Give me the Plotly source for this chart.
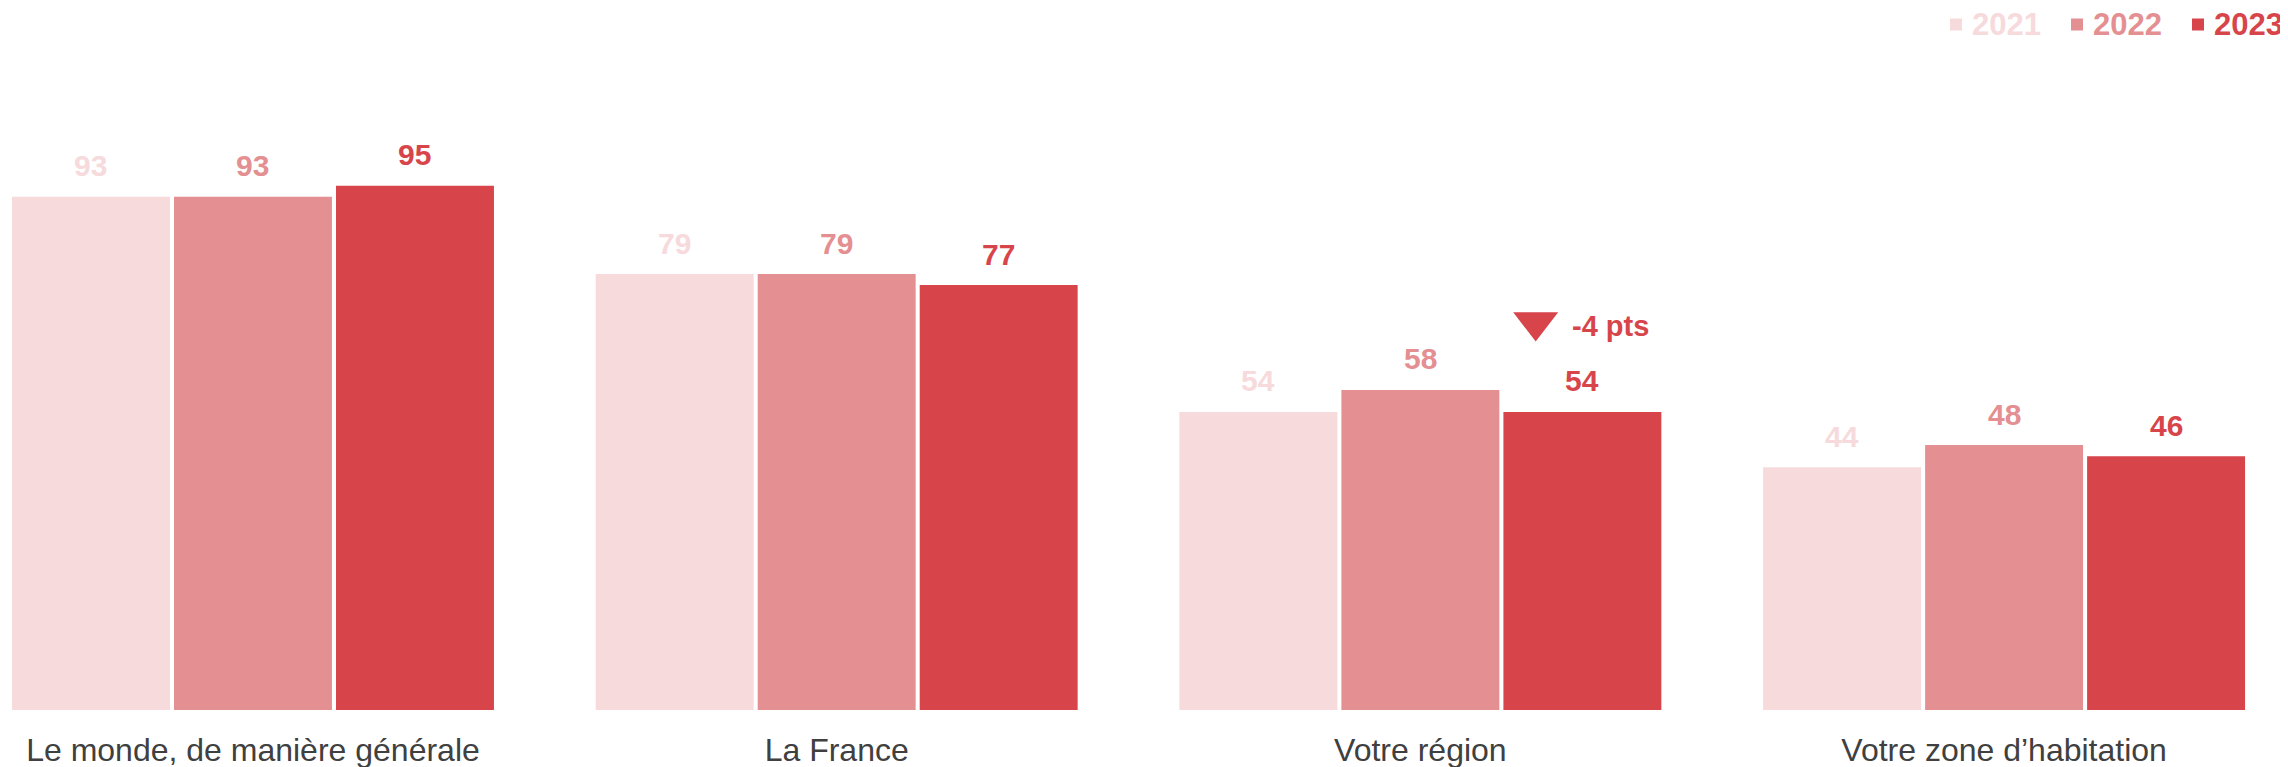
import plotly.graph_objects as go
import numpy as np

categories = ["Le monde, de manière générale", "La France", "Votre région", "Votre zone d\u2019habitation"]
years = ["2021", "2022", "2023"]
values_2021 = [93, 79, 54, 44]
values_2022 = [93, 79, 58, 48]
values_2023 = [95, 77, 54, 46]
colors = ["#F6DADC", "#E48F92", "#D7454B"]

delta_category = 2
delta_text = "-4 pts"

series = [values_2021, values_2022, values_2023]

FONT = "Liberation Sans, Arial, sans-serif"
FIG_W, FIG_H = 2280, 759
MARGIN_B = 57
PLOT_H = FIG_H - MARGIN_B
BARGAP = 0.1674
SLOT = (1 - BARGAP) / 3
idx = np.arange(len(categories))

# legend layout (pixels from the figure's top-left)
LEG_X0 = 1942      # left edge of first legend square
LEG_PITCH = 121    # distance between legend entries
LEG_SQ = 12        # square size
LEG_GAP = 9        # gap square -> text
LEG_YC = 16.5      # vertical center of legend row

fig = go.Figure()
for j, (yr, vals, col) in enumerate(zip(years, series, colors)):
    fig.add_trace(go.Bar(
        x=idx, y=vals, name=yr,
        marker=dict(color=col, line=dict(width=0)),
        hoverinfo="skip", showlegend=False,
    ))
    for i, v in enumerate(vals):
        fig.add_annotation(
            x=i + (j - 1) * SLOT, y=v, xref="x", yref="y",
            text=f"<b>{v}</b>", showarrow=False,
            yanchor="middle", yshift=31,
            font=dict(family=FONT, size=30, color=col),
        )
    # legend entry: square + bold coloured year
    sx = LEG_X0 + j * LEG_PITCH
    fig.add_shape(
        type="rect", xref="paper", yref="paper",
        x0=sx / FIG_W, x1=(sx + LEG_SQ) / FIG_W,
        y0=1 - (LEG_YC + LEG_SQ / 2) / PLOT_H, y1=1 - (LEG_YC - LEG_SQ / 2) / PLOT_H,
        fillcolor=col, line=dict(width=0),
    )
    fig.add_annotation(
        x=(sx + LEG_SQ + LEG_GAP) / FIG_W, y=1 - LEG_YC / PLOT_H,
        xref="paper", yref="paper", xanchor="left", yanchor="middle",
        text=f"<b>{yr}</b>", showarrow=False, borderpad=0,
        font=dict(family=FONT, size=31, color=col),
    )

# delta marker (down triangle) and text near 2023 bar of "Votre région"
base_x = delta_category + SLOT
base_y = values_2023[delta_category]
fig.add_trace(go.Scatter(
    x=[base_x - 0.08], y=[base_y + 16.3], mode="markers",
    marker=dict(symbol="triangle-down", size=39, color=colors[2], line=dict(width=0)),
    showlegend=False, hoverinfo="skip",
))
fig.add_annotation(
    x=base_x - 0.0212, y=base_y + 15.5, xref="x", yref="y",
    text=f"<b>{delta_text}</b>", showarrow=False,
    xanchor="left", yanchor="middle",
    font=dict(family=FONT, size=29, color=colors[2]),
)

fig.update_layout(
    width=FIG_W, height=FIG_H,
    barmode="group", bargap=BARGAP, bargroupgap=0.025,
    margin=dict(l=0, r=0, t=0, b=MARGIN_B),
    plot_bgcolor="white", paper_bgcolor="white",
    font=dict(family=FONT),
    showlegend=False,
    xaxis=dict(
        range=[-0.4197, 3.4864], tickmode="array", tickvals=idx, ticktext=categories,
        showgrid=False, zeroline=False, showline=False, ticks="",
        tickfont=dict(family=FONT, size=32, color="#404040"),
        ticklabelstandoff=18,
        automargin=False, fixedrange=True,
    ),
    yaxis=dict(
        range=[0, 127.2], visible=False, showgrid=False, zeroline=False,
        automargin=False, fixedrange=True,
    ),
)

fig.write_html("out.html")
